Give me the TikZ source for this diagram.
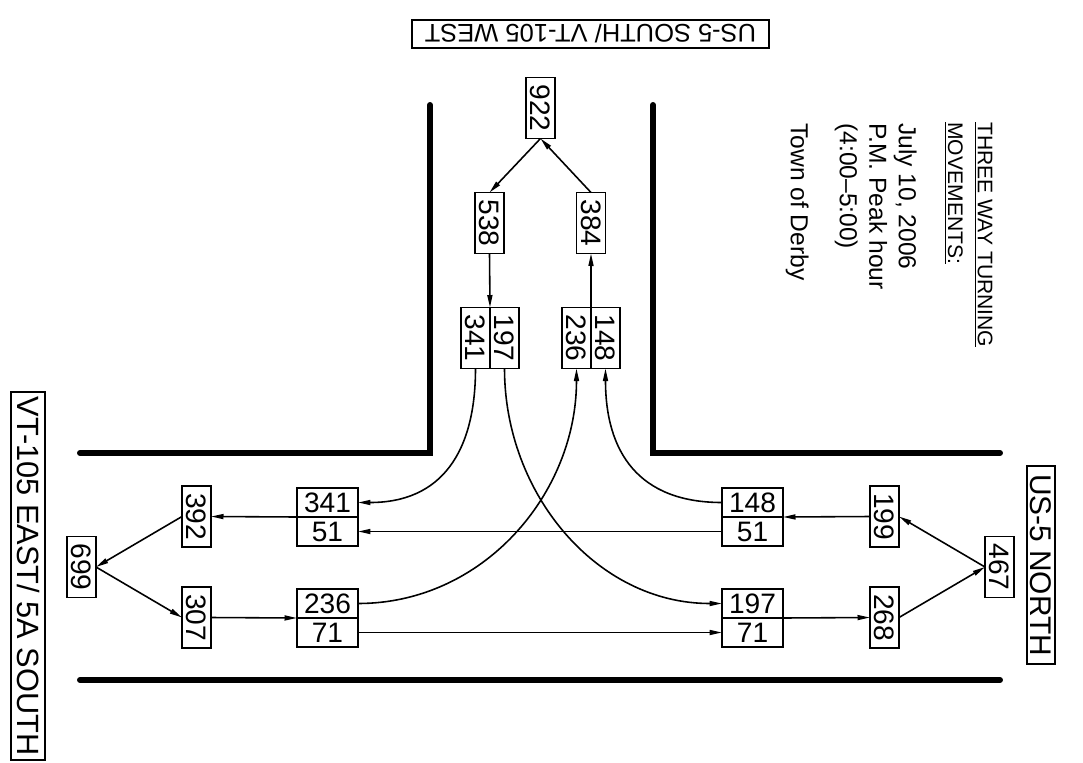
\documentclass[tikz,border=0pt]{standalone}
\usepackage{fontspec}
\setmainfont{Liberation Sans}
\usepackage{graphicx}
\usetikzlibrary{arrows.meta,positioning}
\newcommand{\vtext}[1]{\rotatebox{-90}{#1}}

\begin{document}
\begin{tikzpicture}[
  x=0.02cm, y=0.02cm,
  cnt/.style={draw, line width=1pt, minimum width=1.22cm, minimum height=0.58cm, inner sep=0pt, outer sep=0pt, font=\fontsize{16}{16}\selectfont},
  vcnt/.style={cnt, minimum width=0.58cm, minimum height=1.22cm},
  lbl/.style={draw, line width=1pt, inner sep=0pt},
  note/.style={rotate=-90, anchor=north west, align=left, inner sep=0pt},
  road/.style={line width=3.4pt, line cap=round},
  arrow/.style={-{Triangle[length=2.5mm, width=1mm]}, line width=0.9pt}
]
\useasboundingbox (0,0) rectangle (1083,-762);
\draw[road] (80,-453) -- (430,-453) -- (430,-105);
\draw[road] (653,-105) -- (653,-453) -- (1000,-453);
\draw[road] (80,-680) -- (1000,-680);
\node[lbl, rotate=180, minimum width=7.14cm, minimum height=0.56cm, font=\fontsize{14.5}{14.5}\selectfont] (usS) at (590.5,-34) {US-5 SOUTH/ VT-105 WEST};
\node[lbl, minimum width=0.68cm, minimum height=7.36cm, font=\fontsize{17.5}{17.5}\selectfont] (vtE) at (28,-576) {\vtext{VT-105 EAST/ 5A SOUTH}};
\node[lbl, minimum width=0.56cm, minimum height=3.96cm, font=\fontsize{17}{17}\selectfont] (usN) at (1041,-565) {\vtext{US-5 NORTH}};
\node[note, font=\fontsize{12}{17}\selectfont] (heading) at (993,-122) {\underline{THREE WAY TURNING}\\\underline{MOVEMENTS:}};
\node[note, font=\fontsize{14}{16.8}\selectfont] (notes) at (917,-123) {July 10, 2006\\P.M. Peak hour\\(4:00--5:00)\\[11pt]Town of Derby};
\node[vcnt] (t922) at (540.5,-108) {\vtext{922}};
\node[vcnt] (t538) at (489.5,-223) {\vtext{538}};
\node[vcnt] (t384) at (591,-223) {\vtext{384}};
\node[vcnt] (t341) at (475.5,-338) {\vtext{341}};
\node[vcnt] (t197) at (504.5,-338) {\vtext{197}};
\node[vcnt] (t236) at (576.5,-338) {\vtext{236}};
\node[vcnt] (t148) at (605.5,-338) {\vtext{148}};
\node[vcnt] (l699) at (81.5,-567) {\vtext{699}};
\node[vcnt] (l392) at (196.5,-516.5) {\vtext{392}};
\node[vcnt] (l307) at (196.5,-617.5) {\vtext{307}};
\node[cnt] (l341) at (327.5,-502.5) {341};
\node[cnt, below=0pt of l341] (l51) {51};
\node[cnt] (l236) at (327.5,-603.5) {236};
\node[cnt, below=0pt of l236] (l71) {71};
\node[cnt] (r148) at (752.5,-502.5) {148};
\node[cnt, below=0pt of r148] (r51) {51};
\node[cnt] (r197) at (752.5,-603.5) {197};
\node[cnt, below=0pt of r197] (r71) {71};
\node[vcnt] (r199) at (884.5,-516.5) {\vtext{199}};
\node[vcnt] (r268) at (884.5,-617.5) {\vtext{268}};
\node[vcnt] (r467) at (999.5,-567) {\vtext{467}};
\draw[arrow] (t922.south) -- (t538.north);
\draw[arrow] (t384.north) -- (t922.south);
\draw[arrow] (t538.south) -- (t341.north east);
\draw[arrow] (t236.north east) -- (t384.south);
\draw[arrow] (t341.south) to[out=-90, in=0, looseness=1.2] (l341.east);
\draw[arrow] (t197.south) to[out=-90, in=180] (r197.west);
\draw[arrow] (l236.east) to[out=0, in=-90] (t236.south);
\draw[arrow] (r148.west) to[out=180, in=-90, looseness=1.2] (t148.south);
\draw[arrow] (r51.west) -- (l51.east);
\draw[arrow] (l71.east) -- (r71.west);
\draw[arrow] (l341.south west) -- (l392.east);
\draw[arrow] (l392.west) -- (l699.east);
\draw[arrow] (l699.east) -- (l307.west);
\draw[arrow] (l307.east) -- (l236.south west);
\draw[arrow] (r199.west) -- (r148.south east);
\draw[arrow] (r467.west) -- (r199.east);
\draw[arrow] (r197.south east) -- (r268.west);
\draw[arrow] (r268.east) -- (r467.west);
\end{tikzpicture}
\end{document}
